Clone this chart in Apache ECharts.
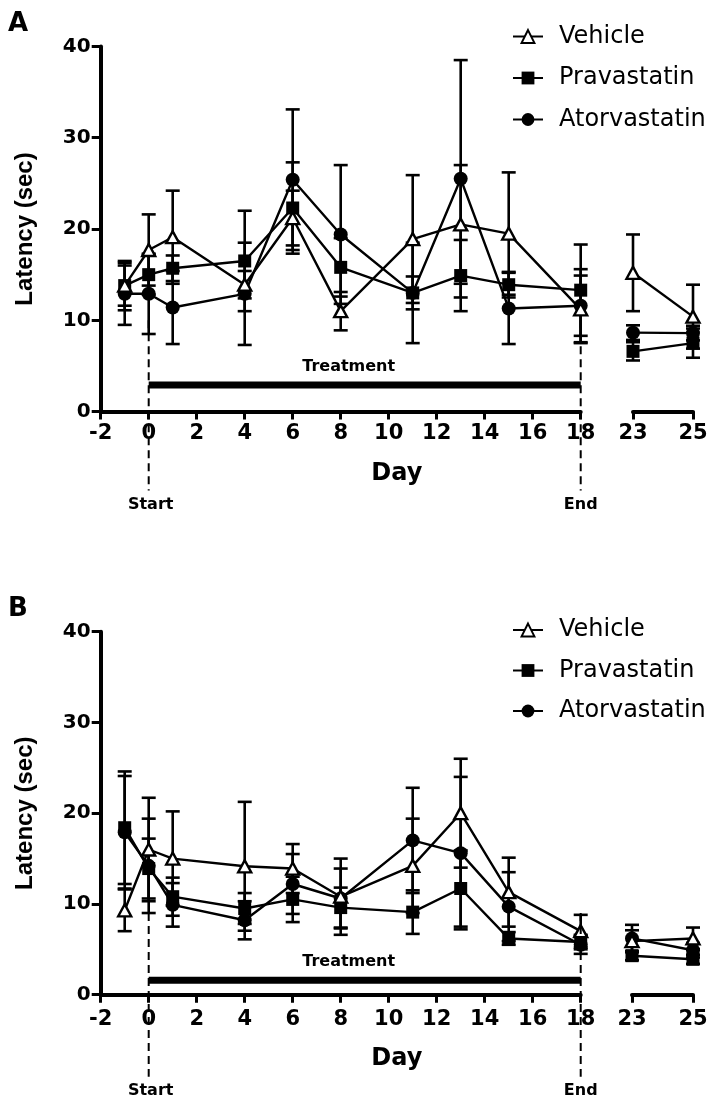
<!DOCTYPE html>
<html><head><meta charset="utf-8">
<script src="https://cdn.jsdelivr.net/npm/echarts@6/dist/echarts.min.js"></script>
<style>html,body{margin:0;padding:0;background:#fff}#c{width:717px;height:1103px}</style>
</head><body><div id="c"></div>
<script>
// ---- data ----
const days = [-1, 0, 1, 4, 6, 8, 11, 13, 15, 18];
const daysPost = [23, 25];
const xTicksMain = [-2, 0, 2, 4, 6, 8, 10, 12, 14, 16, 18];
const xTicksPost = [23, 25];
const yTicks = [0, 10, 20, 30, 40];
const seriesNames = ['Vehicle', 'Pravastatin', 'Atorvastatin'];

// Panel A
const vehA      = [13.8, 17.7, 19.1, 13.9, 21.2, 11.0, 18.9, 20.5, 19.5, 11.2];
const vehSemA   = [2.2, 3.9, 5.1, 1.5, 3.0, 2.1, 7.0, 6.5, 6.7, 3.7];
const vehPostA  = [15.2, 10.4];
const vehPostSemA = [4.2, 3.5];
const pravA     = [13.8, 15.0, 15.7, 16.5, 22.3, 15.8, 13.0, 14.9, 13.9, 13.3];
const pravSemA  = [2.7, 2.2, 1.4, 5.5, 5.0, 3.2, 1.8, 3.9, 1.4, 5.0];
const pravPostA = [6.6, 7.5];
const pravPostSemA = [1.0, 1.6];
const atorA     = [12.9, 12.9, 11.4, 12.9, 25.4, 19.4, 13.0, 25.5, 11.3, 11.6];
const atorSemA  = [3.4, 4.4, 4.0, 5.6, 7.7, 7.6, 5.5, 13.0, 3.9, 4.0];
const atorPostA = [8.65, 8.6];
const atorPostSemA = [0.8, 0.8];

// Panel B
const vehB      = [9.3, 16.0, 15.0, 14.15, 13.9, 10.8, 14.2, 20.0, 11.3, 7.0];
const vehSemB   = [2.3, 5.7, 5.2, 7.1, 2.7, 4.2, 5.2, 6.0, 3.8, 1.8];
const vehPostB  = [5.9, 6.2];
const vehPostSemB = [1.2, 1.2];
const pravB     = [18.4, 13.9, 10.8, 9.5, 10.5, 9.6, 9.1, 11.7, 6.2, 5.8];
const pravSemB  = [6.2, 3.3, 2.1, 1.7, 2.5, 2.2, 2.4, 4.2, 0.7, 0.8];
const pravPostB = [4.3, 3.9];
const pravPostSemB = [0.5, 0.5];
const atorB     = [17.9, 14.2, 9.9, 8.2, 12.2, 10.6, 17.0, 15.6, 9.7, 5.5];
const atorSemB  = [6.2, 5.2, 2.4, 2.1, 3.3, 3.3, 5.8, 8.4, 3.8, 1.0];
const atorPostB = [6.2, 4.9];
const atorPostSemB = [1.5, 0.8];

// treatment period annotation
const treatment = [0, 18];
const treatmentLevelA = 2.9;
const treatmentLevelB = 1.6;

// ---- layout ----
const panelsLayout = [
  { top: 46.4, height: 365.2, mainLeft: 100.7, mainWidth: 480, postLeft: 633, postWidth: 60, labelMargin: 11, legendTop: 22.5, legendGap: 13.5 },
  { top: 631.7, height: 363.0, mainLeft: 100.7, mainWidth: 480, postLeft: 632, postWidth: 61, labelMargin: 14, legendTop: 616, legendGap: 12.5 }
];
const FONT = '"DejaVu Sans", sans-serif';
const BLACK = '#000';

const symbolDefs = {
  Vehicle: { symbol: 'triangle', symbolSize: [13, 12], itemStyle: { color: '#fff', borderColor: BLACK, borderWidth: 2.4 } },
  Pravastatin: { symbol: 'rect', symbolSize: 13, itemStyle: { color: BLACK, borderColor: BLACK, borderWidth: 0 } },
  Atorvastatin: { symbol: 'circle', symbolSize: 14, itemStyle: { color: BLACK, borderColor: BLACK, borderWidth: 0 } }
};

function errRender(params, api) {
  const x = api.value(0), lo = api.value(1), hi = api.value(2);
  const pLo = api.coord([x, lo]), pHi = api.coord([x, hi]);
  const w = 7;
  const style = { stroke: BLACK, lineWidth: 2.6, fill: null };
  return { type: 'group', children: [
    { type: 'line', shape: { x1: pLo[0], y1: pLo[1], x2: pHi[0], y2: pHi[1] }, style },
    { type: 'line', shape: { x1: pHi[0] - w, y1: pHi[1], x2: pHi[0] + w, y2: pHi[1] }, style },
    { type: 'line', shape: { x1: pLo[0] - w, y1: pLo[1], x2: pLo[0] + w, y2: pLo[1] }, style }
  ]};
}

const grids = [], xAxes = [], yAxes = [], series = [], legends = [];

function axisCommon() {
  return {
    axisLine: { show: true, onZero: false, lineStyle: { color: BLACK, width: 4 } },
    axisTick: { show: true, inside: false, length: 8, lineStyle: { color: BLACK, width: 3 } },
    axisLabel: { color: BLACK, fontFamily: FONT, fontWeight: 'bold', fontSize: 20 },
    splitLine: { show: false }
  };
}

function buildPanel(pi, mainVals, mainSems, postVals, postSems, treatLevel) {
  const L = panelsLayout[pi];
  const gMain = grids.length, gPost = gMain + 1;
  grids.push({ left: L.mainLeft, top: L.top, width: L.mainWidth, height: L.height, containLabel: false });
  grids.push({ left: L.postLeft, top: L.top, width: L.postWidth, height: L.height, containLabel: false });

  const xm = Object.assign(axisCommon(), { type: 'value', gridIndex: gMain, min: xTicksMain[0], max: xTicksMain[xTicksMain.length - 1], interval: xTicksMain[1] - xTicksMain[0] });
  xm.axisLabel = Object.assign({}, xm.axisLabel, { margin: L.labelMargin, fontSize: 21 });
  const xp = Object.assign(axisCommon(), { type: 'value', gridIndex: gPost, min: xTicksPost[0], max: xTicksPost[xTicksPost.length - 1], interval: xTicksPost[1] - xTicksPost[0] });
  xp.axisLabel = Object.assign({}, xp.axisLabel, { margin: L.labelMargin, fontSize: 21 });
  xAxes.push(xm, xp);

  const ym = Object.assign(axisCommon(), { type: 'value', gridIndex: gMain, min: yTicks[0], max: yTicks[yTicks.length - 1], interval: yTicks[1] - yTicks[0] });
  ym.axisLabel = Object.assign({}, ym.axisLabel, { margin: 10 });
  ym.axisTick = Object.assign({}, ym.axisTick, { length: 9 });
  const yp = { type: 'value', gridIndex: gPost, min: yTicks[0], max: yTicks[yTicks.length - 1], show: false, splitLine: { show: false } };
  yAxes.push(ym, yp);

  // treatment bar
  series.push({
    type: 'line', name: 'TreatmentBar' + pi, xAxisIndex: gMain, yAxisIndex: gMain,
    data: [[treatment[0], treatLevel], [treatment[1], treatLevel]],
    symbol: 'none', silent: true, z: 1,
    lineStyle: { color: BLACK, width: 7, cap: 'butt' }
  });

  seriesNames.forEach((nm, si) => {
    const vals = mainVals[si], sems = mainSems[si], pv = postVals[si], ps = postSems[si];
    const sd = symbolDefs[nm];
    series.push({
      type: 'custom', name: nm + ' err', xAxisIndex: gMain, yAxisIndex: gMain, z: 2, silent: true,
      renderItem: errRender,
      data: days.map((d, i) => [d, vals[i] - sems[i], vals[i] + sems[i]])
    });
    series.push({
      type: 'custom', name: nm + ' err post', xAxisIndex: gPost, yAxisIndex: gPost, z: 2, silent: true,
      renderItem: errRender,
      data: daysPost.map((d, i) => [d, pv[i] - ps[i], pv[i] + ps[i]])
    });
    const common = {
      type: 'line', name: nm, symbol: sd.symbol, symbolSize: sd.symbolSize,
      itemStyle: sd.itemStyle, lineStyle: { color: BLACK, width: 2.4 },
      z: 3 + (2 - si), clip: false, showAllSymbol: true, animation: false
    };
    series.push(Object.assign({}, common, { xAxisIndex: gMain, yAxisIndex: gMain, data: days.map((d, i) => [d, vals[i]]) }));
    series.push(Object.assign({}, common, { xAxisIndex: gPost, yAxisIndex: gPost, data: daysPost.map((d, i) => [d, pv[i]]) }));
  });

  legends.push({
    data: seriesNames, orient: 'vertical', left: 512, top: L.legendTop, padding: 0,
    itemWidth: 30, itemHeight: 16, itemGap: L.legendGap, selectedMode: false,
    textStyle: { fontFamily: FONT, fontSize: 24, color: BLACK, lineHeight: 28, padding: [0, 0, 0, 11] }
  });
}

buildPanel(0, [vehA, pravA, atorA], [vehSemA, pravSemA, atorSemA], [vehPostA, pravPostA, atorPostA], [vehPostSemA, pravPostSemA, atorPostSemA], treatmentLevelA);
buildPanel(1, [vehB, pravB, atorB], [vehSemB, pravSemB, atorSemB], [vehPostB, pravPostB, atorPostB], [vehPostSemB, pravPostSemB, atorPostSemB], treatmentLevelB);

const chart = echarts.init(document.getElementById('c'), null, { renderer: 'canvas' });
chart.setOption({
  backgroundColor: '#fff',
  animation: false,
  grid: grids, xAxis: xAxes, yAxis: yAxes, series: series, legend: legends
});

// ---- annotations (positions from the library's scales) ----
const graphics = [];
const panelLetters = ['A', 'B'];
const dashTopValues = [10, 9];
const treatLevels = [treatmentLevelA, treatmentLevelB];
[0, 1].forEach(pi => {
  const gMain = pi * 2, gPost = pi * 2 + 1;
  const toPx = (v) => chart.convertToPixel({ xAxisIndex: gMain, yAxisIndex: gMain }, v);
  const postPx = (v) => chart.convertToPixel({ xAxisIndex: gPost, yAxisIndex: gPost }, v);
  const origin = toPx([xTicksMain[0], 0]);
  const axisY = origin[1];
  const topY = toPx([0, yTicks[yTicks.length - 1]])[1];
  const endPost = postPx([xTicksPost[xTicksPost.length - 1], 0])[0];

  graphics.push({ type: 'text', x: 8, y: topY - 22, style: { text: panelLetters[pi], font: 'bold 26px ' + FONT, fill: BLACK, verticalAlign: 'middle', align: 'left' } });
  graphics.push({ type: 'text', x: 25, y: (topY + axisY) / 2, rotation: Math.PI / 2,
    style: { text: 'Latency (sec)', font: 'bold 24px "Liberation Sans", Arial, sans-serif', fill: BLACK, align: 'center', verticalAlign: 'middle' } });
  graphics.push({ type: 'text', x: (origin[0] + endPost) / 2, y: axisY + 62 + (pi ? 2 : 0),
    style: { text: 'Day', font: 'bold 24px ' + FONT, fill: BLACK, align: 'center', verticalAlign: 'middle' } });
  [[treatment[0], 'Start'], [treatment[1], 'End']].forEach(([d, lab]) => {
    const p = toPx([d, dashTopValues[pi]]);
    graphics.push({ type: 'line', shape: { x1: p[0], y1: p[1], x2: p[0], y2: axisY + 79 + (pi ? 3 : 0) },
      style: { stroke: BLACK, lineWidth: 2, lineDash: [8, 5] }, z: 10 });
    graphics.push({ type: 'text', x: p[0] + (d === 0 ? 2 : 0), y: axisY + 93 + (pi ? 3 : 0),
      style: { text: lab, font: 'bold 16px ' + FONT, fill: BLACK, align: 'center', verticalAlign: 'middle' } });
  });
  const tp = toPx([(treatment[0] + treatment[1]) / 2, treatLevels[pi]]);
  graphics.push({ type: 'text', x: tp[0] - 16, y: tp[1] - 18, style: { text: 'Treatment', font: 'bold 16px ' + FONT, fill: BLACK, align: 'center', verticalAlign: 'middle' } });
});
chart.setOption({ graphic: graphics });
</script>
</body></html>
